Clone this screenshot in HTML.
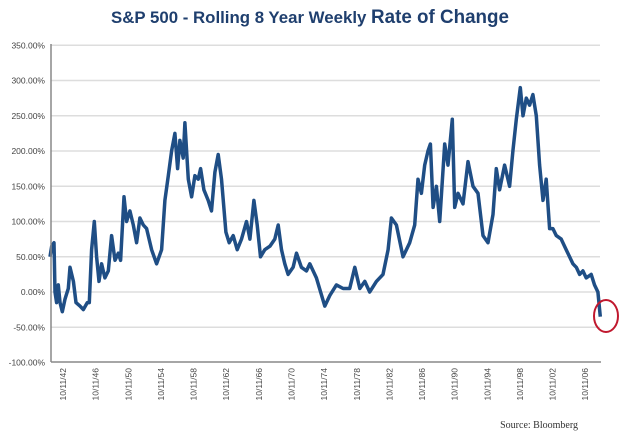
<!DOCTYPE html>
<html><head><meta charset="utf-8"><style>
body{margin:0;background:#fff;}
svg{display:block;font-family:"Liberation Sans",sans-serif;}
</style></head><body>
<svg id="chart" width="620" height="435" viewBox="0 0 620 435">
<text x="310" y="23" text-anchor="middle" font-weight="bold" font-size="17" fill="#1f3f6e" textLength="398" lengthAdjust="spacingAndGlyphs">S&amp;P 500 - Rolling 8 Year Weekly <tspan font-size="19">Rate of Change</tspan></text>
<g id="grid"></g><g id="yt"></g><g id="xt"></g><g id="series"></g>
<line x1="51" y1="44" x2="51" y2="362" stroke="#888" stroke-width="1.5"/>
<line x1="51" y1="362" x2="601" y2="362" stroke="#888" stroke-width="1.5"/>
<ellipse cx="606" cy="316" rx="12" ry="16" fill="none" stroke="#c0182e" stroke-width="2"/>
<text x="578" y="428" text-anchor="end" font-family="Liberation Serif,serif" font-size="10" fill="#333">Source: Bloomberg</text>
</svg>
<script>
const yTicks=[350,300,250,200,150,100,50,0,-50,-100];
const xTickYears=[1942,1946,1950,1954,1958,1962,1966,1970,1974,1978,1982,1986,1990,1994,1998,2002,2006];
const years=[1940.41,1940.61,1940.90,1941.02,1941.22,1941.43,1941.63,1941.92,1942.24,1942.65,1942.86,1943.27,1943.59,1944.08,1944.49,1944.98,1945.22,1945.51,1945.84,1946.12,1946.41,1946.73,1947.14,1947.55,1947.96,1948.37,1948.78,1949.06,1949.47,1949.80,1950.20,1950.61,1951.02,1951.43,1951.84,1952.24,1952.86,1953.47,1954.08,1954.49,1954.90,1955.31,1955.71,1956.04,1956.33,1956.73,1956.94,1957.35,1957.76,1958.16,1958.57,1958.86,1959.27,1959.80,1960.20,1960.61,1961.02,1961.43,1961.96,1962.37,1962.86,1963.35,1963.88,1964.49,1964.90,1965.39,1965.80,1966.20,1966.73,1967.35,1967.96,1968.37,1968.78,1969.18,1969.59,1970.20,1970.61,1971.22,1971.84,1972.24,1973.06,1974.08,1974.69,1975.51,1976.33,1977.14,1977.76,1978.37,1978.98,1979.59,1980.41,1981.22,1981.84,1982.24,1982.86,1983.67,1984.49,1985.10,1985.51,1985.92,1986.33,1986.73,1987.02,1987.35,1987.76,1988.16,1988.78,1989.18,1989.71,1990.00,1990.41,1991.02,1991.63,1992.24,1992.86,1993.47,1994.08,1994.69,1995.10,1995.51,1996.12,1996.73,1997.14,1997.55,1998.04,1998.37,1998.78,1999.18,1999.59,2000.00,2000.41,2000.82,2001.22,2001.63,2002.04,2002.45,2003.06,2003.67,2004.49,2004.90,2005.31,2005.71,2006.12,2006.73,2007.14,2007.55,2007.84];
const values=[50,65,70,0,-15,10,-15,-28,-10,5,35,15,-15,-20,-25,-15,-15,60,100,50,15,40,20,30,80,45,55,45,135,100,115,95,70,105,95,90,60,40,60,130,165,200,225,175,215,190,240,160,135,165,160,175,145,130,115,170,195,160,85,70,80,60,75,100,75,130,95,50,60,65,75,95,60,40,25,35,55,35,30,40,20,-20,-5,10,5,5,35,5,15,0,15,25,60,105,95,50,70,95,160,140,180,200,210,120,150,100,210,180,245,120,140,125,185,150,140,80,70,110,175,145,180,150,200,245,290,250,275,265,280,250,180,130,160,90,90,80,75,60,40,35,25,30,20,25,10,0,-35];
const NS='http://www.w3.org/2000/svg';
const yS=v=>292-v*0.705;
const xS=yr=>63+(yr-1942)*8.16;
function mk(t,a,p){const e=document.createElementNS(NS,t);for(const k in a)e.setAttribute(k,a[k]);p.appendChild(e);return e;}
const grid=document.getElementById('grid'),yt=document.getElementById('yt'),xt=document.getElementById('xt');
yTicks.forEach(v=>{
  if(v>-100){const l=mk('line',{x1:51,x2:600,y1:yS(v),y2:yS(v),stroke:'#ddd','stroke-width':1.5},grid);
  
  }
  const t=mk('text',{x:45,y:yS(v)+3,'text-anchor':'end','font-size':8.5,fill:'#444'},yt);
  t.textContent=v.toFixed(2)+'%';
  
  
});
xTickYears.forEach(yr=>{
  const x=xS(yr)+3;
  const t=mk('text',{x:0,y:0,'text-anchor':'end','font-size':8.5,fill:'#444',transform:`translate(${x},368) rotate(-90)`},xt);
  t.textContent='10/11/'+String(yr).slice(2);
  
  
});
const d=years.map((yr,i)=>(i?'L':'M')+xS(yr).toFixed(1)+' '+yS(values[i]).toFixed(1)).join(' ');
const p=mk('path',{d:d,fill:'none',stroke:'#1f4e85','stroke-width':3.5,'stroke-linejoin':'round'},document.getElementById('series'));


</script>
</body></html>
